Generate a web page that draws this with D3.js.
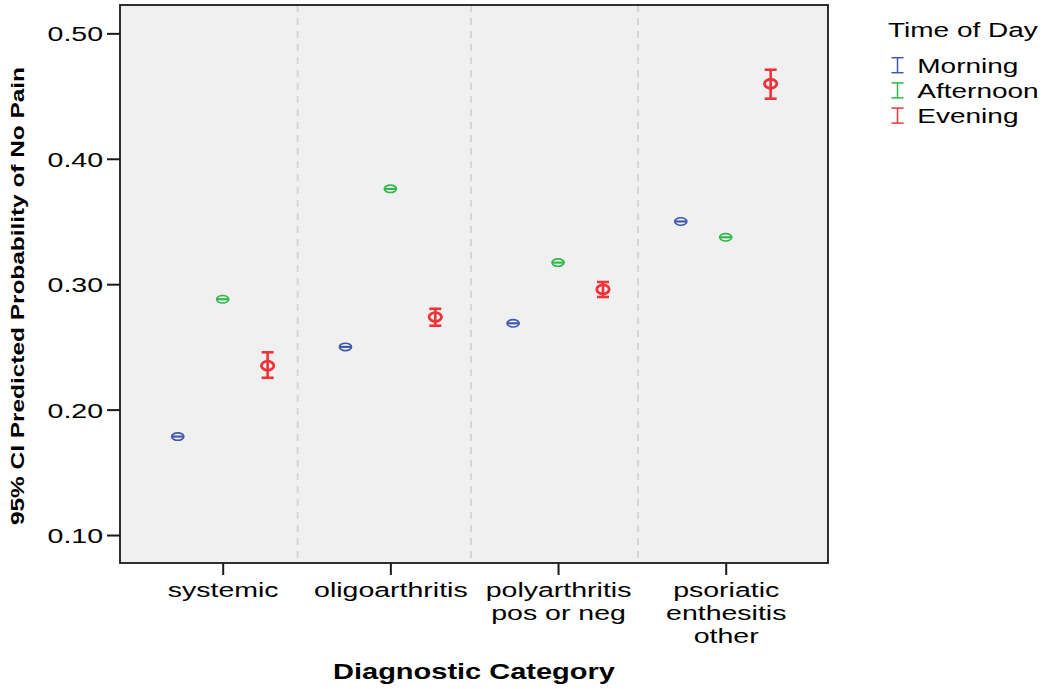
<!DOCTYPE html>
<html>
<head>
<meta charset="utf-8">
<script src="https://cdn.jsdelivr.net/npm/d3@7"></script>
<style>
  html, body { margin: 0; padding: 0; background: #ffffff; }
  svg { display: block; }
  text { font-family: "Liberation Sans", Arial, Helvetica, sans-serif; fill: #000; }
</style>
</head>
<body>
<svg id="chart" width="1047" height="689"></svg>
<script>
// Diagnostic categories (line breaks split the axis labels)
const categories = ["systemic", "oligoarthritis", "polyarthritis\npos or neg", "psoriatic\nenthesitis\nother"];

// Predicted probability of no pain with 95% CI, by time of day
const seriesNames = ["Morning", "Afternoon", "Evening"];
const morning      = [0.1785, 0.2500, 0.2688, 0.3500];
const morningLow   = [0.1782, 0.2497, 0.2685, 0.3497];
const morningHigh  = [0.1788, 0.2503, 0.2691, 0.3503];
const afternoon     = [0.2880, 0.3760, 0.3172, 0.3374];
const afternoonLow  = [0.2877, 0.3757, 0.3169, 0.3371];
const afternoonHigh = [0.2883, 0.3763, 0.3175, 0.3377];
const evening      = [0.2350, 0.2738, 0.2959, 0.4598];
const eveningLow   = [0.2254, 0.2669, 0.2898, 0.4479];
const eveningHigh  = [0.2457, 0.2804, 0.3017, 0.4710];

// Y axis ticks
const yTicks = [0.10, 0.20, 0.30, 0.40, 0.50];
// Reference lines between category groups, in category-index units
const dividerAt = [0.447, 1.481, 2.477];

const colors = { Morning: "#3E58AC", Afternoon: "#2EB848", Evening: "#EF3338" };
const seriesData = {
  Morning:   { mid: morning,   lo: morningLow,   hi: morningHigh },
  Afternoon: { mid: afternoon, lo: afternoonLow, hi: afternoonHigh },
  Evening:   { mid: evening,   lo: eveningLow,   hi: eveningHigh }
};

const svg = d3.select("#chart");
const plot = { left: 120, right: 828, top: 5, bottom: 563 };
const vScale = 0.74; // vertical squash applied to horizontal text

const x = d3.scaleLinear().domain([-0.6125, 3.610]).range([plot.left, plot.right]);
const y = d3.scaleLinear().domain([0.0777, 0.5226]).range([plot.bottom, plot.top]);
const clusterOffset = d3.scaleOrdinal().domain(seriesNames).range([-0.268, 0, 0.268]);

function label(parent, px, py, str, size, anchor, weight) {
  const g = parent.append("g").attr("transform", `translate(${px},${py}) scale(1,${vScale})`);
  g.append("text")
    .attr("x", 0).attr("y", 0)
    .attr("text-anchor", anchor || "start")
    .attr("font-size", size)
    .attr("font-weight", weight || "normal")
    .text(str);
  return g;
}

// Plot background
svg.append("rect")
  .attr("x", plot.left).attr("y", plot.top)
  .attr("width", plot.right - plot.left).attr("height", plot.bottom - plot.top)
  .attr("fill", "#f0f0f0");

// Dashed separators between categories
svg.append("g").selectAll("line")
  .data(dividerAt)
  .join("line")
  .attr("x1", d => x(d)).attr("x2", d => x(d))
  .attr("y1", plot.top).attr("y2", plot.bottom)
  .attr("stroke", "#d6d6d6")
  .attr("stroke-width", 2)
  .attr("stroke-dasharray", "7,6");

// Y axis
const yAxis = svg.append("g")
  .attr("transform", `translate(${plot.left},0)`)
  .call(d3.axisLeft(y).tickValues(yTicks).tickFormat(d3.format(".2f")).tickSize(13).tickPadding(0));
yAxis.select(".domain").remove();
yAxis.selectAll(".tick line").attr("stroke", "#1a1a1a").attr("stroke-width", 2);
yAxis.selectAll(".tick text").remove();
yAxis.selectAll(".tick").each(function(d) {
  label(d3.select(this), -17, 7.6, d3.format(".2f")(d), 28.5, "end");
});

// X axis ticks
const xAxis = svg.append("g")
  .attr("transform", `translate(0,${plot.bottom})`)
  .call(d3.axisBottom(x).tickValues(d3.range(categories.length)).tickFormat("").tickSize(12));
xAxis.select(".domain").remove();
xAxis.selectAll(".tick line").attr("stroke", "#1a1a1a").attr("stroke-width", 2);
xAxis.selectAll(".tick").each(function(d) {
  const lines = categories[d].split("\n");
  lines.forEach((ln, i) => label(d3.select(this), 0, 34 + i * 23, ln, 28.5, "middle"));
});

// Frame
svg.append("rect")
  .attr("x", plot.left).attr("y", plot.top)
  .attr("width", plot.right - plot.left).attr("height", plot.bottom - plot.top)
  .attr("fill", "none")
  .attr("stroke", "#1a1a1a")
  .attr("stroke-width", 1.8);

// Error bars with mean markers
seriesNames.forEach(name => {
  const s = seriesData[name];
  const bold = name === "Evening";
  const col = colors[name];
  const sw = bold ? 2.6 : 1.4;
  const capHalf = 6;
  const g = svg.append("g").attr("class", "series-" + name);
  const pts = categories.map((c, i) => ({ i, mid: s.mid[i], lo: s.lo[i], hi: s.hi[i] }));
  const gx = d => x(d.i + clusterOffset(name));

  g.selectAll("line.stem").data(pts).join("line")
    .attr("class", "stem")
    .attr("x1", gx).attr("x2", gx)
    .attr("y1", d => y(d.lo)).attr("y2", d => y(d.hi))
    .attr("stroke", col).attr("stroke-width", sw);
  g.selectAll("line.caphi").data(pts).join("line")
    .attr("class", "caphi")
    .attr("x1", d => gx(d) - capHalf).attr("x2", d => gx(d) + capHalf)
    .attr("y1", d => y(d.hi)).attr("y2", d => y(d.hi))
    .attr("stroke", col).attr("stroke-width", sw);
  g.selectAll("line.caplo").data(pts).join("line")
    .attr("class", "caplo")
    .attr("x1", d => gx(d) - capHalf).attr("x2", d => gx(d) + capHalf)
    .attr("y1", d => y(d.lo)).attr("y2", d => y(d.lo))
    .attr("stroke", col).attr("stroke-width", sw);
  g.selectAll("ellipse").data(pts).join("ellipse")
    .attr("cx", gx).attr("cy", d => y(d.mid))
    .attr("rx", bold ? 6.2 : 6.1).attr("ry", bold ? 4.5 : 3.7)
    .attr("fill", "none")
    .attr("stroke", col).attr("stroke-width", bold ? 2.8 : 1.6);
});

// Legend
const legend = svg.append("g");
label(legend, 888, 36.7, "Time of Day", 28, "start");
seriesNames.forEach((name, i) => {
  const by = 72.7 + i * 25.2;
  const cx = 897.5;
  const col = colors[name];
  const gi = legend.append("g");
  gi.append("line").attr("x1", cx).attr("x2", cx).attr("y1", by - 15).attr("y2", by)
    .attr("stroke", col).attr("stroke-width", 1.5);
  gi.append("line").attr("x1", cx - 6).attr("x2", cx + 6).attr("y1", by - 15).attr("y2", by - 15)
    .attr("stroke", col).attr("stroke-width", 1.5);
  gi.append("line").attr("x1", cx - 6).attr("x2", cx + 6).attr("y1", by).attr("y2", by)
    .attr("stroke", col).attr("stroke-width", 1.5);
  label(gi, 917.3, by, name, 28, "start");
});

// Axis titles
label(svg, (plot.left + plot.right) / 2, 679, "Diagnostic Category", 29, "middle", "bold");
svg.append("text")
  .attr("transform", "translate(24,296) rotate(-90)")
  .attr("text-anchor", "middle")
  .attr("font-size", 17.5)
  .attr("font-weight", "bold")
  .attr("textLength", 458)
  .attr("lengthAdjust", "spacingAndGlyphs")
  .text("95% CI Predicted Probability of No Pain");
</script>
</body>
</html>
